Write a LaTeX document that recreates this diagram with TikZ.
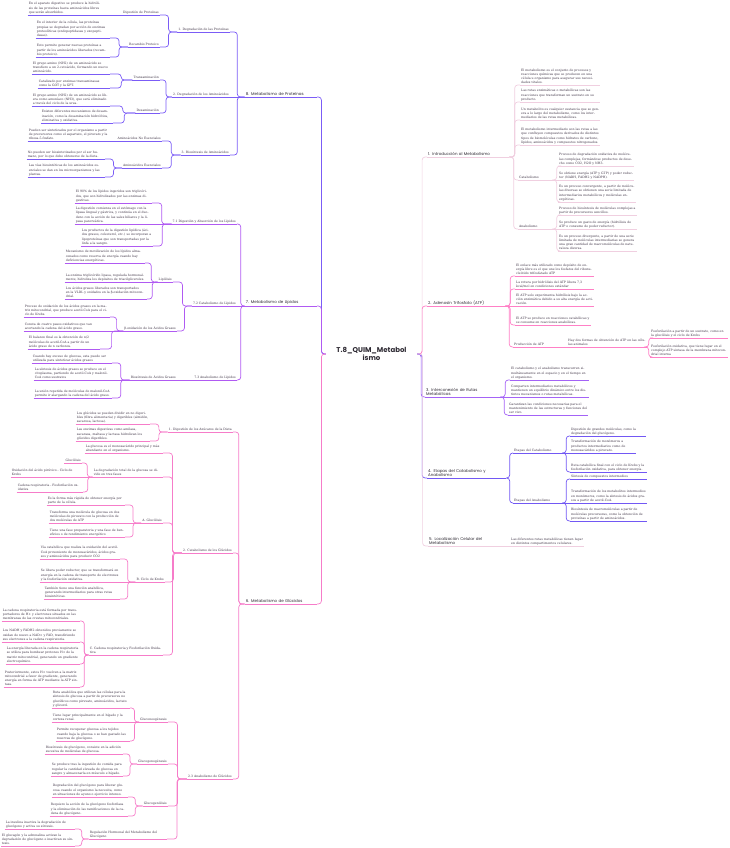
\documentclass[tikz,border=0pt]{standalone}
\usepackage{fontspec}
\usepackage{tikz}
\usetikzlibrary{calc}
\newfontfamily\topicfont{Poppins}
\newfontfamily\notefont{DejaVu Serif}
\definecolor{protColor}{HTML}{7B5CF6}
\definecolor{lipColor}{HTML}{B05AF2}
\definecolor{gluColor}{HTML}{F67CC9}
\definecolor{introColor}{HTML}{F0CFE0}
\definecolor{atpColor}{HTML}{FF80C6}
\definecolor{rutaColor}{HTML}{A463F6}
\definecolor{etapaColor}{HTML}{7258F4}
\definecolor{inkColor}{HTML}{3E3345}
\definecolor{titleColor}{HTML}{2E2A33}
\colorlet{brc}{black}

\begin{document}
\begin{tikzpicture}[
    x=1pt, y=-1pt,
    base/.style={inner xsep=1pt, inner ysep=0.8pt, text=inkColor,
        font=\notefont\fontsize{3.1}{4.2}\selectfont,
        append after command={(\tikzlastnode.south west) edge[draw=brc, line width=0.7pt] (\tikzlastnode.south east)}},
    leaf/.style={base, align=left, text width=#1},
    leaf/.default=74pt,
    sub/.style={base},
    topic/.style={base, text=titleColor, font=\topicfont\fontsize{4}{4.9}\selectfont, align=left, text width=#1},
    topic/.default=70pt,
    hub/.style={text=titleColor, font=\topicfont\bfseries\fontsize{7}{8}\selectfont, align=center, text width=74pt, inner xsep=8.5pt},
    link/.style={draw=brc, line width=0.7pt, rounded corners=3pt,
        to path={let \p1=(\tikztostart), \p2=(\tikztotarget) in
            -- ({(\x1+\x2)/2},\y1) -- ({(\x1+\x2)/2},\y2) -- (\p2)}}
]
\useasboundingbox (0,0) rectangle (729,848);

\node[hub] (hub) at (371.5,354) {T.8\_QUIM\_Metabol\\ismo};

% Metabolismo de Proteinas
\begin{scope}
\colorlet{brc}{protColor}
\node[topic, anchor=south east] (t8) at (317,97) {8. Metabolismo de Proteínas};
\node[sub, anchor=south east] (p1) at (230,32) {1. Degradación de las Proteínas};
\node[sub, anchor=south east] (p11) at (160,15) {Digestión de Proteínas};
\node[leaf=73pt, anchor=south east] (p11a) at (103,15) {En el aparato digestivo se produce la hidrólisis de las proteínas hasta aminoácidos libres que serán absorbidos.};
\node[sub, anchor=south east] (p12) at (160,47) {Recambio Proteico};
\node[leaf=72pt, anchor=south east] (p12a) at (110,38) {En el interior de la célula, las proteínas propias se degradan por acción de enzimas proteolíticas (endopeptidasas y exopeptidasas).};
\node[leaf=72pt, anchor=south east] (p12b) at (110,57) {Esto permite generar nuevas proteínas a partir de los aminoácidos liberados (recambio proteico).};
\node[sub, anchor=south east] (p2) at (230,97) {2. Degradación de los Aminoácidos};
\node[sub, anchor=south east] (p21) at (160,80) {Transaminación};
\node[leaf=76pt, anchor=south east] (p21a) at (110,74) {El grupo amino (NH2) de un aminoácido se transfiere a un 2-cetoácido, formando un nuevo aminoácido.};
\node[leaf=70pt, anchor=south east] (p21b) at (110,88) {Catalizado por enzimas transaminasas como la GOT y la GPT.};
\node[sub, anchor=south east] (p22) at (160,113) {Desaminación};
\node[leaf=76pt, anchor=south east] (p22a) at (110,106) {El grupo amino (NH2) de un aminoácido se libera como amoníaco (NH3), que será eliminado a través del ciclo de la urea.};
\node[leaf=70pt, anchor=south east] (p22b) at (113,123) {Existen diferentes mecanismos de desaminación, como la desaminación hidrolítica, eliminativa y oxidativa.};
\node[sub, anchor=south east] (p3) at (230,155) {3. Biosíntesis de Aminoácidos};
\node[sub, anchor=south east] (p31) at (162,141) {Aminoácidos No Esenciales};
\node[leaf=80pt, anchor=south east] (p31a) at (110,141) {Pueden ser sintetizados por el organismo a partir de precursores como el aspartato, el piruvato y la ribosa-5-fosfato.};
\node[sub, anchor=south east] (p32) at (162,168) {Aminoácidos Esenciales};
\node[leaf=76pt, anchor=south east] (p32a) at (105,159) {No pueden ser biosintetizados por el ser humano, por lo que debe obtenerse de la dieta.};
\node[leaf=75pt, anchor=south east] (p32b) at (105,177) {Las vías biosintéticas de los aminoácidos esenciales se dan en los microorganismos y las plantas.};

\draw[link] (hub.west) to (t8.south east);
\draw[link] (t8.south west) to (p1.south east);
\draw[link] (t8.south west) -- (p2.south east);
\draw[link] (t8.south west) to (p3.south east);
\draw[link] (p1.south west) to (p11.south east);
\draw[link] (p1.south west) to (p12.south east);
\draw[link] (p11.south west) -- (p11a.south east);
\draw[link] (p12.south west) to (p12a.south east);
\draw[link] (p12.south west) to (p12b.south east);
\draw[link] (p2.south west) to (p21.south east);
\draw[link] (p2.south west) to (p22.south east);
\draw[link] (p21.south west) to (p21a.south east);
\draw[link] (p21.south west) to (p21b.south east);
\draw[link] (p22.south west) to (p22a.south east);
\draw[link] (p22.south west) to (p22b.south east);
\draw[link] (p3.south west) to (p31.south east);
\draw[link] (p3.south west) to (p32.south east);
\draw[link] (p31.south west) -- (p31a.south east);
\draw[link] (p32.south west) to (p32a.south east);
\draw[link] (p32.south west) to (p32b.south east);
\end{scope}

% Metabolismo de Lipidos
\begin{scope}
\colorlet{brc}{lipColor}
\node[topic, anchor=south east] (t7) at (317,306) {7. Metabolismo de Lípidos};
\node[sub, anchor=south east] (l1) at (237,224) {7.1 Digestión y Absorción de los Lípidos};
\node[leaf=75pt, anchor=south east] (l1a) at (152,203) {El 90\% de los lípidos ingeridos son triglicéridos, que son hidrolizados por las enzimas digestivas.};
\node[leaf=75pt, anchor=south east] (l1b) at (152,224) {La digestión comienza en el estómago con la lipasa lingual y gástrica, y continúa en el duodeno con la acción de las sales biliares y la lipasa pancreática.};
\node[leaf=70pt, anchor=south east] (l1c) at (153,246) {Los productos de la digestión lipídica (ácidos grasos, colesterol, etc.) se incorporan a lipoproteínas que son transportadas por la linfa a la sangre.};
\node[sub, anchor=south east] (l2) at (237,306) {7.2 Catabolismo de Lípidos};
\node[sub, anchor=south east] (l21) at (173,282) {Lipólisis};
\node[leaf=78pt, anchor=south east] (l21a) at (145,263) {Mecanismo de movilización de los lípidos almacenados como reserva de energía cuando hay deficiencias energéticas.};
\node[leaf=80pt, anchor=south east] (l21b) at (147,282) {La enzima triglicérido lipasa, regulada hormonalmente, hidroliza los depósitos de triacilgliceroles.};
\node[leaf=80pt, anchor=south east] (l21c) at (147,299) {Los ácidos grasos liberados son transportados en la VLDL y oxidados en la β-oxidación mitocondrial.};
\node[sub, anchor=south east] (l22) at (177,331) {β-oxidación de los Ácidos Grasos};
\node[leaf=84pt, anchor=south east] (l22a) at (110,317) {Proceso de oxidación de los ácidos grasos en la matriz mitocondrial, que produce acetil-CoA para el ciclo de Krebs.};
\node[leaf=74pt, anchor=south east] (l22b) at (100,331) {Consta de cuatro pasos oxidativos que van acortando la cadena del ácido graso.};
\node[leaf=70pt, anchor=south east] (l22c) at (100,349) {El balance final es la obtención de n/2 moléculas de acetil-CoA a partir de un ácido graso de n carbonos.};
\node[sub, anchor=south east] (l3) at (237,380) {7.3 Anabolismo de Lípidos};
\node[sub, anchor=south east] (l31) at (177,380) {Biosíntesis de Ácidos Grasos};
\node[leaf=78pt, anchor=south east] (l31a) at (112,363) {Cuando hay exceso de glucosa, esta puede ser utilizada para sintetizar ácidos grasos};
\node[leaf=76pt, anchor=south east] (l31b) at (112,380) {La síntesis de ácidos grasos se produce en el citoplasma, partiendo de acetil-CoA y malonil-CoA como sustratos};
\node[leaf=76pt, anchor=south east] (l31c) at (112,398) {La unión repetida de moléculas de malonil-CoA permite ir alargando la cadena del ácido graso.};

\draw[link] (hub.west) to (t7.south east);
\draw[link] (t7.south west) to (l1.south east);
\draw[link] (t7.south west) -- (l2.south east);
\draw[link] (t7.south west) to (l3.south east);
\draw[link] (l1.south west) to (l1a.south east);
\draw[link] (l1.south west) -- (l1b.south east);
\draw[link] (l1.south west) to (l1c.south east);
\draw[link] (l2.south west) to (l21.south east);
\draw[link] (l2.south west) to (l22.south east);
\draw[link] (l21.south west) to (l21a.south east);
\draw[link] (l21.south west) -- (l21b.south east);
\draw[link] (l21.south west) to (l21c.south east);
\draw[link] (l22.south west) to (l22a.south east);
\draw[link] (l22.south west) -- (l22b.south east);
\draw[link] (l22.south west) to (l22c.south east);
\draw[link] (l3.south west) -- (l31.south east);
\draw[link] (l31.south west) to (l31a.south east);
\draw[link] (l31.south west) -- (l31b.south east);
\draw[link] (l31.south west) to (l31c.south east);
\end{scope}

% Metabolismo de Glucidos
\begin{scope}
\colorlet{brc}{gluColor}
\node[topic, anchor=south east] (t6) at (317,604) {6. Metabolismo de Glúcidos};
\node[sub, anchor=south east] (g1) at (233,432) {1. Digestión de los Azúcares de la Dieta};
\node[leaf=72pt, anchor=south east] (g1a) at (150,424) {Los glúcidos se pueden dividir en no digeribles (fibra alimentaria) y digeribles (almidón, sacarosa, lactosa).};
\node[leaf=72pt, anchor=south east] (g1b) at (150,441) {Las enzimas digestivas como amilasa, sacarasa, maltasa y lactasa hidrolizan los glúcidos digeribles.};
\node[sub, anchor=south east] (g2) at (233,553) {2. Catabolismo de los Glúcidos};
\node[leaf=76pt, anchor=south east] (g2a) at (163,453) {La glucosa es el monosacárido principal y más abundante en el organismo.};
\node[leaf=68pt, anchor=south east] (g22) at (163,477) {La degradación total de la glucosa se divide en tres fases};
\node[sub, anchor=south east] (g22a) at (82,463) {Glucólisis};
\node[leaf=70pt, anchor=south east] (g22b) at (83,477) {Oxidación del ácido pirúvico - Ciclo de Krebs};
\node[leaf=64pt, anchor=south east] (g22c) at (83,492) {Cadena respiratoria - Fosforilación oxidativa};
\node[sub, anchor=south east] (g23) at (163,523) {A. Glucólisis};
\node[leaf=76pt, anchor=south east] (g23a) at (125,505) {Es la forma más rápida de obtener energía por parte de la célula.};
\node[leaf=74pt, anchor=south east] (g23b) at (125,523) {Transforma una molécula de glucosa en dos moléculas de piruvato con la producción de dos moléculas de ATP};
\node[leaf=74pt, anchor=south east] (g23c) at (125,537) {Tiene una fase preparatoria y una fase de beneficios o de rendimiento energético};
\node[sub, anchor=south east] (g24) at (165,582) {B. Ciclo de Krebs};
\node[leaf=78pt, anchor=south east] (g24a) at (120,559) {Vía catabólica que realiza la oxidación del acetil-CoA proveniente de monosacáridos, ácidos grasos y aminoácidos para producir CO2};
\node[leaf=78pt, anchor=south east] (g24b) at (120,582) {Se libera poder reductor, que se transformará en energía en la cadena de transporte de electrones y la fosforilación oxidativa.};
\node[leaf=74pt, anchor=south east] (g24c) at (120,599) {También tiene una función anabólica, generando intermediarios para otras rutas biosintéticas.};
\node[leaf=72pt, anchor=south east] (g25) at (163,655) {C. Cadena respiratoria y Fosforilación Oxidativa};
\node[leaf=76pt, anchor=south east] (g25a) at (80,621) {La cadena respiratoria está formada por transportadores de H+ y electrones situados en las membranas de las crestas mitocondriales.};
\node[leaf=76pt, anchor=south east] (g25b) at (80,642) {Los NADH y FADH2 obtenidos previamente se oxidan de nuevo a NAD+ y FAD, transfiriendo sus electrones a la cadena respiratoria.};
\node[leaf=72pt, anchor=south east] (g25c) at (80,664) {La energía liberada en la cadena respiratoria se utiliza para bombear protones H+ de la matriz mitocondrial, generando un gradiente electroquímico.};
\node[leaf=74pt, anchor=south east] (g25d) at (80,687) {Posteriormente, estos H+ vuelven a la matriz mitocondrial a favor de gradiente, generando energía en forma de ATP mediante la ATP sintasa.};
\node[sub, anchor=south east] (g3) at (233,779) {2.3 Anabolismo de Glúcidos};
\node[sub, anchor=south east] (g31) at (168,722) {Gluconeogénesis};
\node[leaf=76pt, anchor=south east] (g31a) at (130,708) {Ruta anabólica que utilizan las células para la síntesis de glucosa a partir de precursores no glucídicos como piruvato, aminoácidos, lactato y glicerol.};
\node[leaf=76pt, anchor=south east] (g31b) at (130,722) {Tiene lugar principalmente en el hígado y la corteza renal.};
\node[leaf=72pt, anchor=south east] (g31c) at (130,741) {Permite recuperar glucosa a los tejidos cuando baja la glucosa o se han gastado las reservas de glucógeno.};
\node[sub, anchor=south east] (g32) at (168,764) {Glucogenogénesis};
\node[leaf=76pt, anchor=south east] (g32a) at (123,754) {Biosíntesis de glucógeno, consiste en la adición sucesiva de moléculas de glucosa.};
\node[leaf=70pt, anchor=south east] (g32b) at (123,776) {Se produce tras la ingestión de comida para regular la cantidad elevada de glucosa en sangre y almacenarla en músculo e hígado.};
\node[sub, anchor=south east] (g33) at (168,806) {Glucogenólisis};
\node[leaf=74pt, anchor=south east] (g33a) at (128,797) {Degradación del glucógeno para liberar glucosa cuando el organismo la necesita, como en situaciones de ayuno o ejercicio intenso.};
\node[leaf=76pt, anchor=south east] (g33b) at (128,816) {Requiere la acción de la glucógeno fosforilasa y la eliminación de las ramificaciones de la cadena de glucógeno.};
\node[leaf=76pt, anchor=south east] (g34) at (167,839) {Regulación Hormonal del Metabolismo del Glucógeno};
\node[leaf=68pt, anchor=south east] (g34a) at (75,829) {La insulina inactiva la degradación de glucógeno y activa su síntesis.};
\node[leaf=72pt, anchor=south east] (g34b) at (75,846) {El glucagón y la adrenalina activan la degradación de glucógeno e inactivan su síntesis.};

\draw[link] (hub.west) to (t6.south east);
\draw[link] (t6.south west) to (g1.south east);
\draw[link] (t6.south west) to (g2.south east);
\draw[link] (t6.south west) to (g3.south east);
\draw[link] (g1.south west) to (g1a.south east);
\draw[link] (g1.south west) to (g1b.south east);
\draw[link] (g2.south west) to (g2a.south east);
\draw[link] (g2.south west) to (g22.south east);
\draw[link] (g2.south west) to (g23.south east);
\draw[link] (g2.south west) to (g24.south east);
\draw[link] (g2.south west) to (g25.south east);
\draw[link] (g22.south west) to (g22a.south east);
\draw[link] (g22.south west) -- (g22b.south east);
\draw[link] (g22.south west) to (g22c.south east);
\draw[link] (g23.south west) to (g23a.south east);
\draw[link] (g23.south west) -- (g23b.south east);
\draw[link] (g23.south west) to (g23c.south east);
\draw[link] (g24.south west) to (g24a.south east);
\draw[link] (g24.south west) -- (g24b.south east);
\draw[link] (g24.south west) to (g24c.south east);
\draw[link] (g25.south west) to (g25a.south east);
\draw[link] (g25.south west) to (g25b.south east);
\draw[link] (g25.south west) to (g25c.south east);
\draw[link] (g25.south west) to (g25d.south east);
\draw[link] (g3.south west) to (g31.south east);
\draw[link] (g3.south west) to (g32.south east);
\draw[link] (g3.south west) to (g33.south east);
\draw[link] (g3.south west) to (g34.south east);
\draw[link] (g31.south west) to (g31a.south east);
\draw[link] (g31.south west) -- (g31b.south east);
\draw[link] (g31.south west) to (g31c.south east);
\draw[link] (g32.south west) to (g32a.south east);
\draw[link] (g32.south west) to (g32b.south east);
\draw[link] (g33.south west) to (g33a.south east);
\draw[link] (g33.south west) to (g33b.south east);
\draw[link] (g34.south west) to (g34a.south east);
\draw[link] (g34.south west) to (g34b.south east);
\end{scope}

% Introduccion al Metabolismo
\begin{scope}
\colorlet{brc}{introColor}
\node[topic=80pt, anchor=south west] (r1) at (427,157) {1. Introducción al Metabolismo};
\node[leaf=78pt, anchor=south west] (r1a) at (520,85) {El metabolismo es el conjunto de procesos y reacciones químicas que se producen en una célula u organismo para asegurar sus necesidades vitales.};
\node[leaf=78pt, anchor=south west] (r1b) at (520,102) {Las rutas enzimáticas o metabólicas son las reacciones que transforman un sustrato en su producto.};
\node[leaf=78pt, anchor=south west] (r1c) at (520,120) {Un metabolito es cualquier sustancia que se genera a lo largo del metabolismo, como los intermediarios de las rutas metabólicas.};
\node[leaf=78pt, anchor=south west] (r1d) at (520,145) {El metabolismo intermediario son las rutas a las que confluyen compuestos derivados de distintos tipos de biomoléculas como hidratos de carbono, lípidos, aminoácidos y compuestos nitrogenados.};
\node[leaf=35pt, anchor=south west] (r15) at (518,180) {Catabolismo};
\node[leaf=74pt, anchor=south west] (r15a) at (558,166) {Proceso de degradación oxidativa de moléculas complejas, formándose productos de desecho como CO2, H2O y NH3.};
\node[leaf=74pt, anchor=south west] (r15b) at (558,180) {Se obtiene energía (ATP y GTP) y poder reductor (NADH, FADH2 y NADPH).};
\node[leaf=76pt, anchor=south west] (r15c) at (558,202) {Es un proceso convergente, a partir de moléculas diversas se obtienen una serie limitada de intermediarios metabólicos y moléculas energéticas.};
\node[leaf=35pt, anchor=south west] (r16) at (518,229) {Anabolismo};
\node[leaf=77pt, anchor=south west] (r16a) at (558,215) {Proceso de biosíntesis de moléculas complejas a partir de precursores sencillos.};
\node[leaf=77pt, anchor=south west] (r16b) at (558,229) {Se produce un gasto de energía (hidrólisis de ATP o consumo de poder reductor).};
\node[leaf=77pt, anchor=south west] (r16c) at (558,251) {Es un proceso divergente, a partir de una serie limitada de moléculas intermediarias se genera una gran cantidad de macromoléculas de naturaleza diversa.};

\draw[link] (hub.east) to (r1.south west);
\draw[link] (r1.south east) to (r1a.south west);
\draw[link] (r1.south east) to (r1b.south west);
\draw[link] (r1.south east) to (r1c.south west);
\draw[link] (r1.south east) to (r1d.south west);
\draw[link] (r1.south east) to (r15.south west);
\draw[link] (r1.south east) to (r16.south west);
\draw[link] (r15.south east) to (r15a.south west);
\draw[link] (r15.south east) -- (r15b.south west);
\draw[link] (r15.south east) to (r15c.south west);
\draw[link] (r16.south east) to (r16a.south west);
\draw[link] (r16.south east) -- (r16b.south west);
\draw[link] (r16.south east) to (r16c.south west);
\end{scope}

% Adenosin Trifosfato
\begin{scope}
\colorlet{brc}{atpColor}
\node[topic=76pt, anchor=south west] (r2) at (427,306) {2. Adenosín Trifosfato (ATP)};
\node[leaf=77pt, anchor=south west] (r2a) at (515,276) {El enlace más utilizado como depósito de energía libre es el que une los fosfatos del ribonucleótido trifosfatado ATP};
\node[leaf=77pt, anchor=south west] (r2b) at (515,289) {La rotura por hidrólisis del ATP libera 7,3 kcal/mol en condiciones estándar};
\node[leaf=77pt, anchor=south west] (r2c) at (515,306) {El ATP solo experimenta hidrólisis bajo la acción enzimática debido a su alta energía de activación.};
\node[leaf=74pt, anchor=south west] (r2d) at (515,325) {El ATP se produce en reacciones catabólicas y se consume en reacciones anabólicas.};
\node[leaf=52pt, anchor=south west] (r25) at (513,347) {Producción de ATP};
\node[leaf=78pt, anchor=south west] (r251) at (567,347) {Hay dos formas de obtención de ATP en las células animales};
\node[leaf=76pt, anchor=south west] (r251a) at (650,338) {Fosforilación a partir de un sustrato, como en la glucólisis y el ciclo de Krebs};
\node[leaf=76pt, anchor=south west] (r251b) at (650,357) {Fosforilación oxidativa, que tiene lugar en el complejo ATP sintasa de la membrana mitocondrial interna};

\draw[link] (hub.east) to (r2.south west);
\draw[link] (r2.south east) to (r2a.south west);
\draw[link] (r2.south east) to (r2b.south west);
\draw[link] (r2.south east) -- (r2c.south west);
\draw[link] (r2.south east) to (r2d.south west);
\draw[link] (r2.south east) to (r25.south west);
\draw[link] (r25.south east) -- (r251.south west);
\draw[link] (r251.south east) to (r251a.south west);
\draw[link] (r251.south east) to (r251b.south west);
\end{scope}

% Interconexion de Rutas
\begin{scope}
\colorlet{brc}{rutaColor}
\node[topic=73pt, anchor=south west] (r3) at (425,397) {3. Interconexión de Rutas\\Metabólicas};
\node[leaf=77pt, anchor=south west] (r3a) at (510,380) {El catabolismo y el anabolismo transcurren simultáneamente en el espacio y en el tiempo en el organismo.};
\node[leaf=77pt, anchor=south west] (r3b) at (510,397) {Comparten intermediarios metabólicos y mantienen un equilibrio dinámico entre los distintos mecanismos o rutas metabólicas.};
\node[leaf=78pt, anchor=south west] (r3c) at (508,415) {Garantizan las condiciones necesarias para el mantenimiento de las estructuras y funciones del ser vivo.};

\draw[link] (hub.east) to (r3.south west);
\draw[link] (r3.south east) to (r3a.south west);
\draw[link] (r3.south east) -- (r3b.south west);
\draw[link] (r3.south east) to (r3c.south west);
\end{scope}

% Etapas del Catabolismo y Anabolismo
\begin{scope}
\colorlet{brc}{etapaColor}
\node[topic=77pt, anchor=south west] (r4) at (427,478) {4. Etapas del Catabolismo y\\Anabolismo};
\node[leaf=47pt, anchor=south west] (r41) at (513,453) {Etapas del Catabolismo};
\node[leaf=74pt, anchor=south west] (r41a) at (570,436) {Digestión de grandes moléculas, como la degradación del glucógeno.};
\node[leaf=64pt, anchor=south west] (r41b) at (570,453) {Transformación de monómeros a productos intermediarios como de monosacáridos a piruvato.};
\node[leaf=75pt, anchor=south west] (r41c) at (570,472) {Ruta catabólica final con el ciclo de Krebs y la fosforilación oxidativa, para obtener energía.};
\node[leaf=47pt, anchor=south west] (r42) at (513,503) {Etapas del Anabolismo};
\node[leaf=75pt, anchor=south west] (r42a) at (570,479) {Síntesis de compuestos intermedios};
\node[leaf=75pt, anchor=south west] (r42b) at (570,503) {Transformación de los metabolitos intermedios en monómeros, como la síntesis de ácidos grasos a partir de acetil-CoA.};
\node[leaf=75pt, anchor=south west] (r42c) at (570,521) {Biosíntesis de macromoléculas a partir de moléculas precursoras, como la obtención de proteínas a partir de aminoácidos.};

\draw[link] (hub.east) to (r4.south west);
\draw[link] (r4.south east) to (r41.south west);
\draw[link] (r4.south east) to (r42.south west);
\draw[link] (r41.south east) to (r41a.south west);
\draw[link] (r41.south east) -- (r41b.south west);
\draw[link] (r41.south east) to (r41c.south west);
\draw[link] (r42.south east) to (r42a.south west);
\draw[link] (r42.south east) -- (r42b.south west);
\draw[link] (r42.south east) to (r42c.south west);
\end{scope}

% Localizacion Celular
\begin{scope}
\colorlet{brc}{introColor}
\node[topic=72pt, anchor=south west] (r5) at (428,546) {5. Localización Celular del\\Metabolismo};
\node[leaf=72pt, anchor=south west] (r5a) at (510,546) {Las diferentes rutas metabólicas tienen lugar en distintos compartimentos celulares.};

\draw[link] (hub.east) to (r5.south west);
\draw[link] (r5.south east) -- (r5a.south west);
\end{scope}

\end{tikzpicture}
\end{document}
